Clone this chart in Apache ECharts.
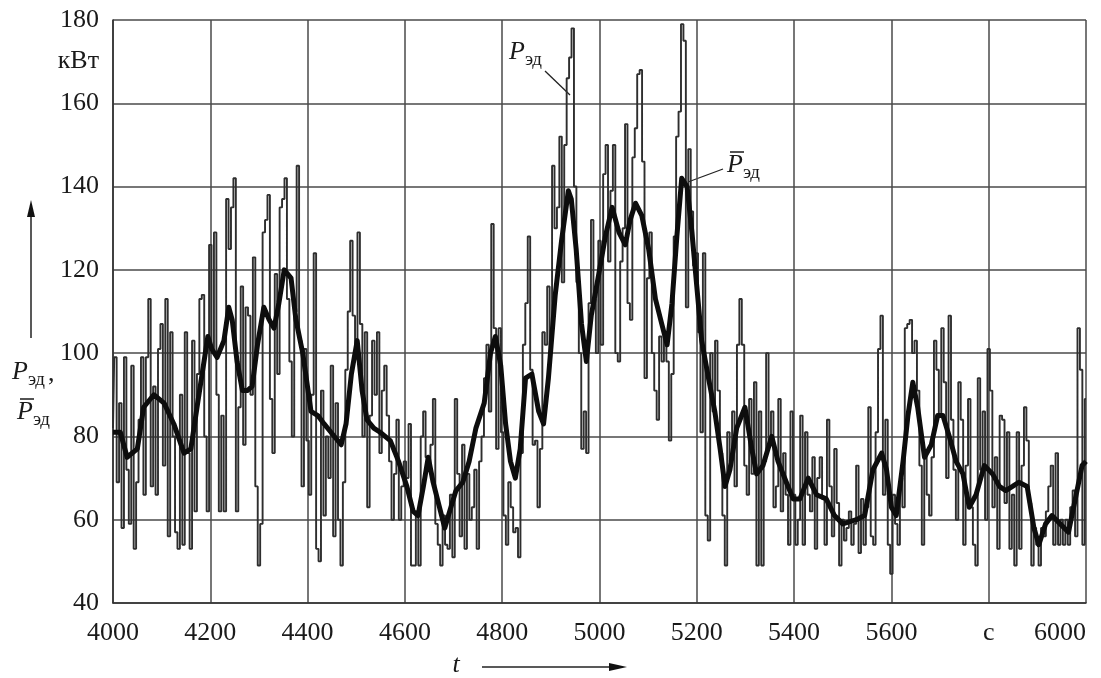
<!DOCTYPE html>
<html><head><meta charset="utf-8">
<script src="https://cdn.jsdelivr.net/npm/echarts@6/dist/echarts.min.js"></script>
<style>html,body{margin:0;padding:0;background:#fff}#c{width:1101px;height:678px}</style>
</head><body><div id="c"></div>
<script>
// ---- axis / tick data ----
const xMin = 4000, xMax = 6000, xStep = 200;
const yMin = 40, yMax = 180, yStep = 20;
const xLabelOverrides = {5800: 'c'};      // unit label replaces 5800
const yUnitValue = 170, yUnitText = 'кВт'; // unit label between 160 and 180

// ---- raw power P_эд, sampled every 5 s from 4000 s ----
const rawStart = 4000, rawStep = 5;
const rawA = [ // 4000..4495
 82,99,69,88,58,99,72,59,97,53,
 69,84,99,66,99,113,68,92,66,101,
 107,73,113,56,105,80,57,53,90,54,
 105,76,53,103,62,95,113,114,80,62,
 126,100,129,90,62,85,62,137,125,135,
 142,62,87,116,78,111,109,90,123,68,
 49,59,129,132,138,89,76,119,95,135,
 137,142,113,98,80,110,145,103,68,101,
 79,66,90,124,53,50,91,61,80,70,
 97,56,88,60,49,69,96,110,127,109];
const rawB = [ // 4500..4995
 100,129,107,80,105,63,85,103,90,105,
 76,91,97,85,74,60,71,84,60,68,
 74,70,83,49,49,62,49,80,86,75,
 73,78,89,59,54,49,61,54,53,66,
 51,89,71,56,78,53,71,60,63,72,
 53,74,80,94,102,86,131,106,77,106,
 81,61,54,69,63,57,58,51,76,102,
 112,128,96,78,79,63,77,105,102,116,
 100,145,130,135,152,117,150,166,171,178,
 140,117,100,77,86,76,112,132,113,100];
const rawC = [ // 5000..5495
 127,102,143,150,122,139,150,100,98,122,
 130,155,112,108,147,154,167,168,146,94,
 118,129,100,91,84,104,98,104,98,79,
 95,128,152,158,179,175,111,149,134,121,
 124,105,81,124,61,55,100,86,103,91,
 76,61,49,81,74,86,68,102,113,102,
 73,66,89,71,93,49,86,49,74,100,
 78,86,63,68,89,62,76,66,54,86,
 66,54,60,85,54,81,66,62,75,53,
 70,75,65,54,84,68,56,77,64,49];
const rawD = [ // 5500..6000
 60,55,58,62,54,59,73,52,65,54,
 63,87,56,54,81,101,109,66,84,54,
 47,66,59,54,70,63,106,107,108,100,
 103,91,73,54,76,66,61,75,103,96,
 85,106,93,70,109,84,72,60,93,84,
 54,73,89,63,54,49,94,72,86,60,
 101,91,63,75,53,85,84,64,81,53,
 66,49,81,53,73,87,79,64,49,58,
 54,49,58,56,62,68,73,54,76,54,
 60,54,60,54,63,67,56,106,96,54,
 89];

// ---- averaged power P̄_эд ----
const smoothT = [4000,4015,4029,4050,4063,4084,4105,4125,4146,4160,4174,4195,4203,4214,4228,4238,4245,4255,4266,4276,4286,4297,4310,4321,4331,4341,4352,4366,4376,4390,4407,4421,4434,4448,4469,4479,4490,4502,4512,4522,4536,4549,4570,4587,4604,4617,4627,4638,4648,4658,4671,4682,4692,4705,4719,4732,4746,4763,4776,4786,4797,4807,4817,4827,4837,4848,4861,4875,4885,4895,4909,4922,4936,4942,4952,4963,4973,4983,4997,5012,5026,5040,5053,5063,5074,5087,5101,5115,5128,5139,5149,5159,5169,5180,5190,5200,5210,5224,5237,5248,5258,5268,5282,5299,5313,5323,5336,5354,5367,5384,5398,5412,5429,5446,5466,5483,5500,5528,5545,5562,5580,5590,5600,5610,5624,5634,5644,5654,5668,5682,5695,5706,5719,5733,5747,5760,5774,5791,5808,5822,5835,5849,5862,5879,5893,5903,5917,5930,5947,5964,5978,5992,6000];
const smoothV = [81,81,75,77,87,90,88,83,76,77,88,104,101,99,103,111,108,98,91,91,92,102,111,108,106,112,120,118,108,100,86,85,83,81,78,83,95,103,91,84,82,81,79,74,68,62,61,68,75,69,63,58,62,67,69,74,82,88,100,104,97,83,74,70,77,94,95,86,83,94,114,127,139,137,125,107,98,109,118,128,135,129,126,132,136,133,125,113,107,102,112,128,142,140,129,116,103,94,86,77,68,72,82,87,77,71,73,80,74,69,65,65,70,66,65,61,59,60,61,72,76,72,63,61,74,85,93,87,75,78,85,85,80,74,71,63,66,73,71,68,67,68,69,68,58,54,59,61,59,57,65,73,74];

// ---- build series data ----
const rawV = [].concat(rawA, rawB, rawC, rawD);
const rawData = rawV.map((v, i) => [rawStart + i * rawStep, v]);
const smoothData = smoothT.map((t, i) => [t, smoothV[i]]);

const SERIF = 'Liberation Serif';
const gridColor = '#4a4a4a';
const ink = '#1a1a1a';

const chart = echarts.init(document.getElementById('c'), null, {renderer: 'canvas'});

function pLabel(x, y, bar, comma) {
  const els = [
    {type: 'text', x: x, y: y, style: {text: 'P', font: 'italic 26px "' + SERIF + '"', fill: ink, textVerticalAlign: 'middle'}},
    {type: 'text', x: x + 16, y: y + 8, style: {text: 'эд', font: '19px "' + SERIF + '"', fill: ink, textVerticalAlign: 'middle'}}
  ];
  if (comma) els.push({type: 'text', x: x + 36, y: y + 2, style: {text: ',', font: '26px "' + SERIF + '"', fill: ink, textVerticalAlign: 'middle'}});
  if (bar) els.push({type: 'line', shape: {x1: x + 3, y1: y - 13, x2: x + 17, y2: y - 13}, style: {stroke: ink, lineWidth: 1.5}});
  return els;
}

const graphics = [].concat(
  // left vertical axis arrow
  [{type: 'line', shape: {x1: 31, y1: 338, x2: 31, y2: 212}, style: {stroke: '#222', lineWidth: 1.5}},
   {type: 'polygon', shape: {points: [[31, 200], [27, 217], [35, 217]]}, style: {fill: '#111'}}],
  pLabel(12, 372, false, true),
  pLabel(17, 412, true, false),
  // bottom t arrow
  [{type: 'text', x: 456, y: 665, style: {text: 't', font: 'italic 26px "' + SERIF + '"', fill: ink, textAlign: 'center', textVerticalAlign: 'middle'}},
   {type: 'line', shape: {x1: 482, y1: 667, x2: 612, y2: 667}, style: {stroke: '#222', lineWidth: 1.5}},
   {type: 'polygon', shape: {points: [[627, 667], [609, 663], [609, 671]]}, style: {fill: '#111'}}],
  // in-plot annotations
  pLabel(509, 52, false, false),
  [{type: 'line', shape: {x1: 545, y1: 71, x2: 570, y2: 95}, style: {stroke: '#222', lineWidth: 1.3}}],
  pLabel(727, 165, true, false),
  [{type: 'line', shape: {x1: 723, y1: 169, x2: 688, y2: 182}, style: {stroke: '#222', lineWidth: 1.3}}]
);

chart.setOption({
  animation: false,
  backgroundColor: '#fff',
  grid: {left: 113, right: 15, top: 20, bottom: 75, containLabel: false},
  xAxis: {
    type: 'value', min: xMin, max: xMax, interval: xStep,
    axisLine: {show: true, lineStyle: {color: '#333', width: 1.6}},
    axisTick: {show: false},
    splitLine: {show: true, lineStyle: {color: gridColor, width: 1.5}},
    axisLabel: {
      fontFamily: SERIF, fontSize: 26, color: ink, margin: 17,
      formatter: v => (xLabelOverrides[v] !== undefined ? xLabelOverrides[v] : String(v)),
      alignMaxLabel: 'right'
    }
  },
  yAxis: [{
    type: 'value', min: yMin, max: yMax, interval: yStep, position: 'left',
    axisLine: {show: true, lineStyle: {color: '#333', width: 1.6}},
    axisTick: {show: false},
    splitLine: {show: true, lineStyle: {color: gridColor, width: 1.5}},
    axisLabel: {fontFamily: SERIF, fontSize: 26, color: ink, margin: 14}
  }, {
    type: 'value', min: yMin, max: yMax, interval: yStep / 2, position: 'left',
    axisLine: {show: false}, axisTick: {show: false}, splitLine: {show: false},
    axisLabel: {fontFamily: SERIF, fontSize: 26, color: ink, margin: 14,
      formatter: v => (v === yUnitValue ? yUnitText : '')}
  }],
  series: [{
    name: 'Pэд', type: 'line', data: rawData, step: 'middle', showSymbol: false, z: 2,
    lineStyle: {color: '#2e2e2e', width: 1.9}
  }, {
    name: 'P̄эд', type: 'line', data: smoothData, showSymbol: false, z: 3,
    lineStyle: {color: '#0d0d0d', width: 5, join: 'round'}
  }],
  graphic: graphics
});
</script>
</body></html>
